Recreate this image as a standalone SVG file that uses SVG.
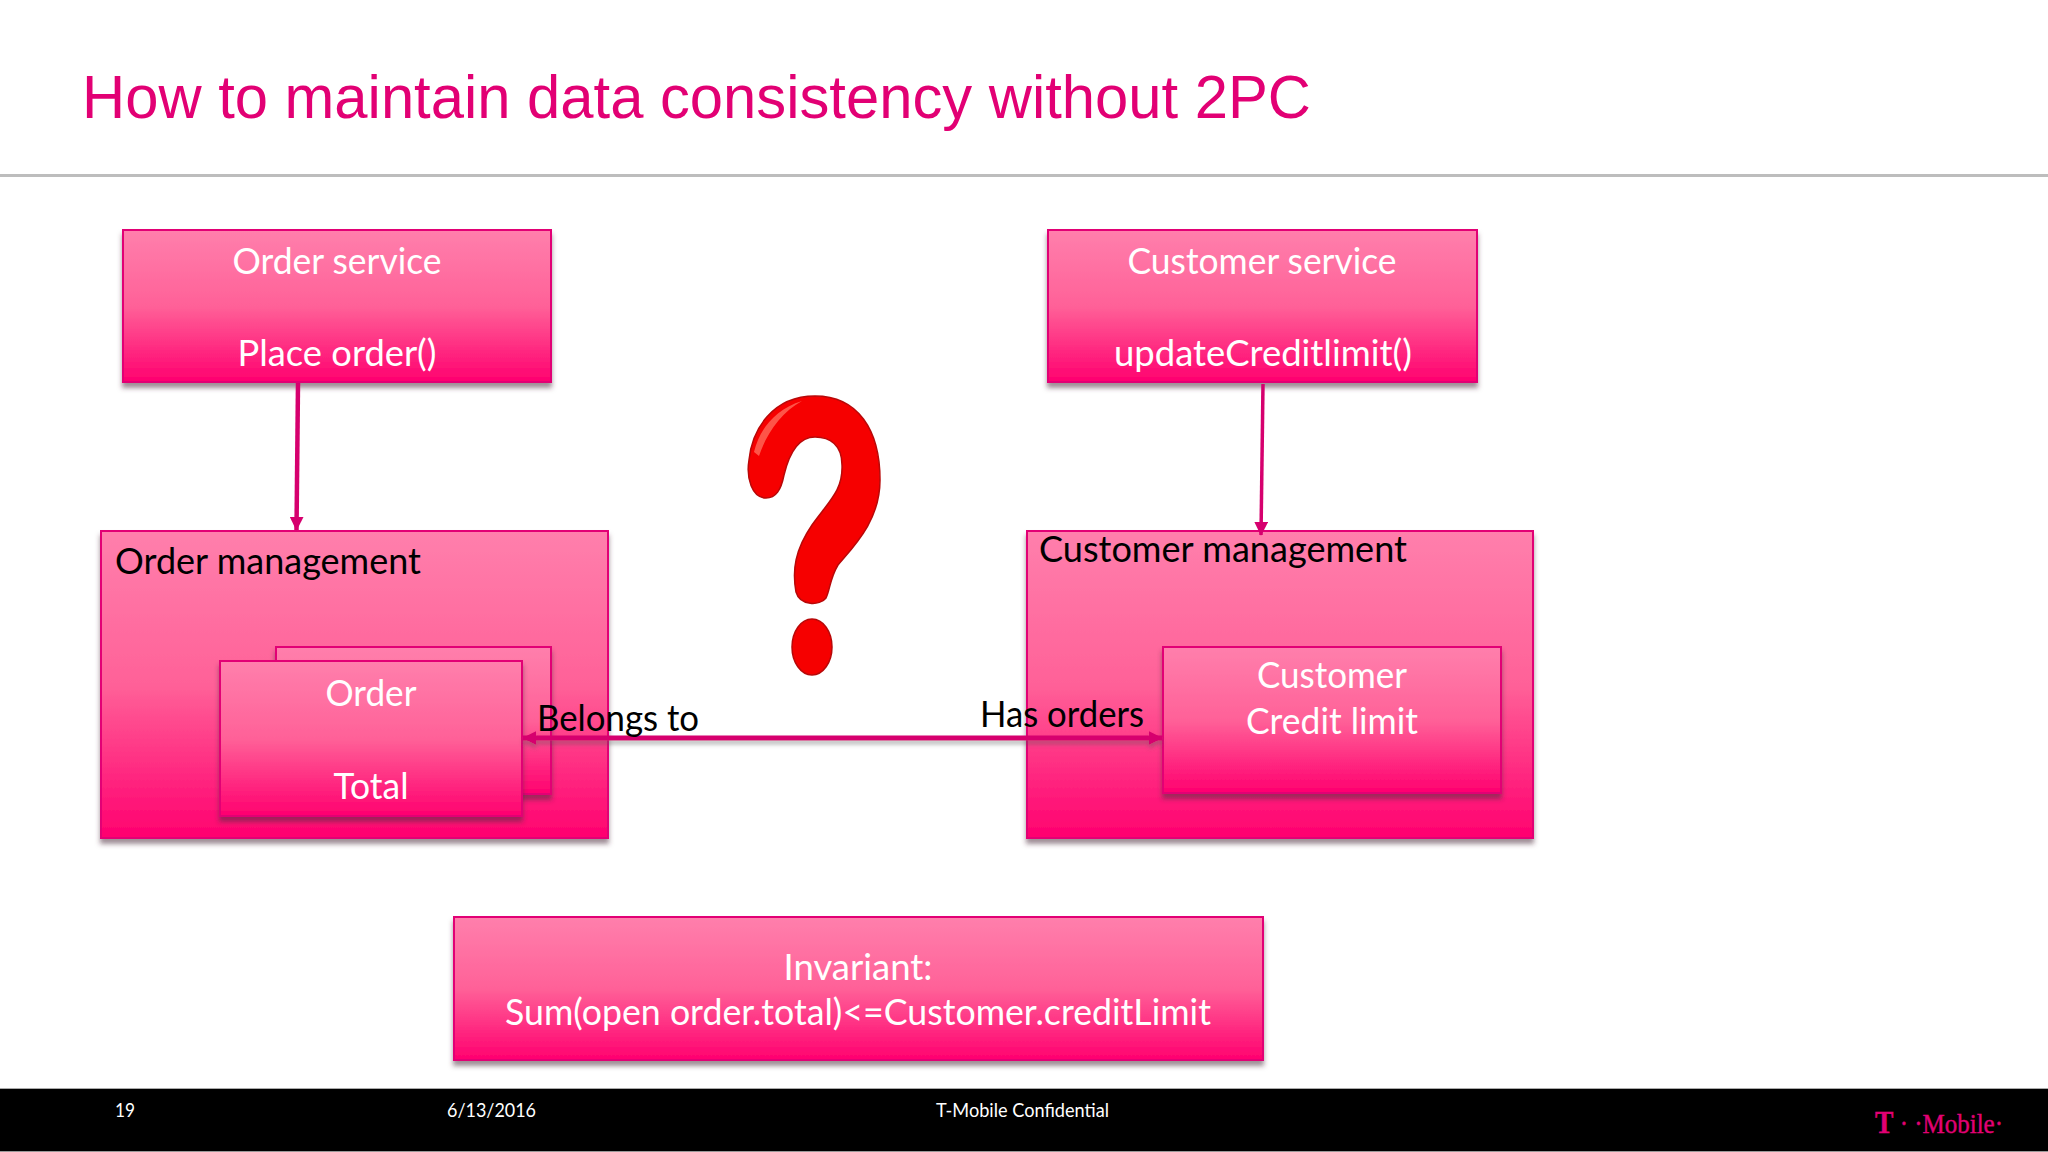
<svg xmlns="http://www.w3.org/2000/svg" width="2048" height="1152" viewBox="0 0 2048 1152">
<defs>
<linearGradient id="pink" x1="0" y1="0" x2="0" y2="1">
<stop offset="0" stop-color="#ff7fac"/><stop offset="0.5" stop-color="#ff6198"/><stop offset="1" stop-color="#ff006f"/>
</linearGradient>
<filter id="sh" x="-5%" y="-5%" width="110%" height="115%"><feDropShadow dx="0" dy="5" stdDeviation="2.5" flood-color="#503040" flood-opacity="0.55"/></filter>
<filter id="ls" filterUnits="userSpaceOnUse" x="500" y="715" width="680" height="50"><feDropShadow dx="0" dy="4" stdDeviation="2" flood-color="#555" flood-opacity="0.4"/></filter>
<marker id="ah" viewBox="0 0 10 10" refX="9.5" refY="5" markerWidth="14" markerHeight="14" markerUnits="userSpaceOnUse" orient="auto-start-reverse"><path d="M0 0L10 5L0 10z" fill="#d6006e"/></marker>
</defs>
<style>
.b{fill:url(#pink);stroke:#e20074;stroke-width:2;filter:url(#sh)}
text{font-family:"Lato","Carlito","Open Sans",sans-serif;font-size:36px}
.w{fill:#fff;text-anchor:middle}
.k{fill:#000}
.f{fill:#fff;font-size:19px}
.c{fill:none;stroke:#d6006e;marker-end:url(#ah)}
</style>
<rect width="2048" height="1152" fill="#fff"/>
<text x="82" y="118" fill="#e20074" style="font-family:'Liberation Sans',Arial,sans-serif;font-size:62px" textLength="1229" lengthAdjust="spacingAndGlyphs">How to maintain data consistency without 2PC</text>
<rect x="0" y="174" width="2048" height="3" fill="#bdbdbd"/>
<g id="order-service"><rect class="b" x="123" y="230" width="428" height="152"/>
<text class="w" x="337" y="274" textLength="209" lengthAdjust="spacingAndGlyphs">Order service</text>
<text class="w" x="337" y="366" textLength="199" lengthAdjust="spacingAndGlyphs">Place order()</text></g>
<g id="customer-service"><rect class="b" x="1048" y="230" width="429" height="152"/>
<text class="w" x="1262" y="274" textLength="269" lengthAdjust="spacingAndGlyphs">Customer service</text>
<text class="w" x="1263" y="366" textLength="298" lengthAdjust="spacingAndGlyphs">updateCreditlimit()</text></g>
<g id="order-management"><rect class="b" x="101" y="531" width="507" height="307"/>
<text class="k" x="115" y="574" textLength="306" lengthAdjust="spacingAndGlyphs">Order management</text></g>
<g id="order-back"><rect class="b" x="276" y="647" width="275" height="147"/></g>
<g id="order"><rect class="b" x="220" y="661" width="302" height="155"/>
<text class="w" x="371" y="706" textLength="91" lengthAdjust="spacingAndGlyphs">Order</text>
<text class="w" x="371" y="799" textLength="75" lengthAdjust="spacingAndGlyphs">Total</text></g>
<g id="customer-management"><rect class="b" x="1027" y="531" width="506" height="307"/>
<text class="k" x="1039" y="562" textLength="368" lengthAdjust="spacingAndGlyphs">Customer management</text></g>
<g id="customer"><rect class="b" x="1163" y="647" width="338" height="146"/>
<text class="w" x="1332" y="688" textLength="150" lengthAdjust="spacingAndGlyphs">Customer</text>
<text class="w" x="1332" y="734" textLength="172" lengthAdjust="spacingAndGlyphs">Credit limit</text></g>
<g id="invariant"><rect class="b" x="454" y="917" width="809" height="143"/>
<text class="w" x="858" y="980" textLength="149" lengthAdjust="spacingAndGlyphs">Invariant:</text>
<text class="w" x="858" y="1025" textLength="706" lengthAdjust="spacingAndGlyphs">Sum(open order.total)&lt;=Customer.creditLimit</text></g>
<g id="connectors">
<line class="c" x1="298" y1="383" x2="296.5" y2="530" stroke-width="4.5"/>
<line class="c" x1="1263" y1="384" x2="1261" y2="535" stroke-width="3.5"/>
<line class="c" x1="523" y1="738" x2="1162" y2="738" stroke-width="5" filter="url(#ls)" style="marker-start:url(#ah)"/>
</g>
<text class="k" x="537" y="731" textLength="162" lengthAdjust="spacingAndGlyphs">Belongs to</text>
<text class="k" x="980" y="727" textLength="164" lengthAdjust="spacingAndGlyphs">Has orders</text>
<g id="question-mark">
<path d="M766 498C752 498 746 478 749 460C752 430 772 396 815 396C858 396 880 430 880 480C880 520 855 545 838 565C830 578 830 590 826 598C820 606 800 606 796 592C792 570 795 550 812 525C830 500 843 490 842 465C842 445 830 437 815 437C800 437 790 450 784 475C781 490 776 498 766 498Z" fill="#f60000" stroke="#b80808" stroke-width="1.5"/>
<ellipse cx="812" cy="647" rx="20" ry="28" fill="#f60000" stroke="#b80808" stroke-width="1.5"/>
<path d="M754 452C760 428 776 409 802 401C782 412 767 432 759 456Z" fill="#ff6a5a" opacity="0.8"/>
</g>
<g id="footer">
<rect x="0" y="1089" width="2048" height="62" fill="#000"/>
<rect x="0" y="1088" width="2048" height="1" fill="#aaa"/>
<rect x="0" y="1151" width="2048" height="1" fill="#999"/>
<text class="f" x="115" y="1117" textLength="20" lengthAdjust="spacingAndGlyphs">19</text>
<text class="f" x="447" y="1117" textLength="89" lengthAdjust="spacingAndGlyphs">6/13/2016</text>
<text class="f" x="936" y="1117" textLength="173" lengthAdjust="spacingAndGlyphs">T-Mobile Confidential</text>
<text x="1875" y="1133" fill="#e20074" stroke="#e20074" stroke-width="0.4" style="font-family:'Liberation Serif',serif;font-size:28px" textLength="128" lengthAdjust="spacingAndGlyphs"><tspan font-weight="bold" font-size="31">T</tspan> · ·Mobile·</text>
</g>
</svg>
